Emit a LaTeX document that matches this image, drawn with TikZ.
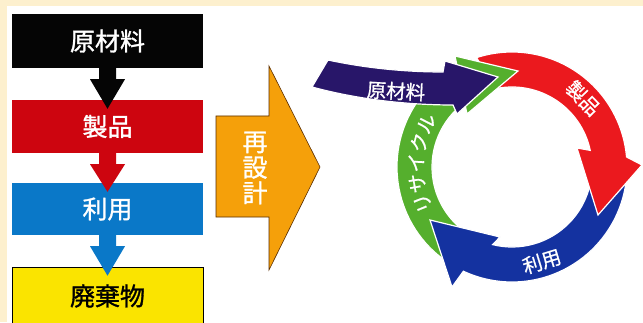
\documentclass[tikz,border=0pt]{standalone}
\usepackage{fontspec}
\newfontfamily\jp{Noto Sans CJK JP}[FakeBold=0.8]
\newfontfamily\jpb{Noto Sans CJK JP}[FakeBold=1.2]
\usetikzlibrary{calc}
\definecolor{cream}{RGB}{253,240,206}
\definecolor{boxblack}{RGB}{5,5,5}
\definecolor{boxred}{RGB}{205,5,15}
\definecolor{boxblue}{RGB}{10,120,200}
\definecolor{boxyellow}{RGB}{250,228,0}
\definecolor{orangearr}{RGB}{245,160,10}
\definecolor{orangeedge}{RGB}{90,45,0}
\definecolor{cycred}{RGB}{235,25,30}
\definecolor{cycblue}{RGB}{20,50,160}
\definecolor{cycgreen}{RGB}{85,175,45}
\definecolor{cycnavy}{RGB}{40,22,105}
\newcommand\flowarrow[3]{%
  \fill[#1] ($(#2.south)+(-8.5,0.5)$) -- ($(#2.south)+(-8.5,-11)$) -- ($(#2.south)+(-17.5,-11)$)
    -- ($(#3.north)+(0,-9)$) -- ($(#2.south)+(17.5,-11)$) -- ($(#2.south)+(8.5,-11)$)
    -- ($(#2.south)+(8.5,0.5)$) -- cycle;}
\begin{document}
\begin{tikzpicture}[x=1pt,y=1pt,
  flowbox/.style={rectangle, minimum width=191pt, inner sep=0pt,
    font=\jpb\fontsize{25}{25}\selectfont, text=white},
  cyclab/.style={font=\jp\fontsize{19.5}{19.5}\selectfont, text=white, inner sep=0pt},
  cycpart/.style={draw=white, line width=1.2pt, line join=miter}]
\clip (0,0) rectangle (643,322);
\fill[cream] (0,0) rectangle (643,322);
\fill[white] (7,-1) rectangle (644,316);

% left flow
\node[flowbox, fill=boxblack, minimum height=54pt] (raw) at (107.5,281) {原材料};
\node[flowbox, fill=boxred, minimum height=53pt] (prod) at (107.5,195.5) {製品};
\node[flowbox, fill=boxblue, minimum height=52pt] (use) at (107.5,113) {利用};
\node[flowbox, fill=boxyellow, draw=black, line width=0.6pt, minimum height=58pt, text=black] (waste) at (107.5,26) {廃棄物};
\flowarrow{boxblack}{raw}{prod}
\flowarrow{boxred}{prod}{use}
\flowarrow{boxblue}{use}{waste}

% redesign arrow
\filldraw[fill=orangearr, draw=orangeedge, line width=0.6pt]
  (216,206) -- (269,206) -- (269,256) -- (320,155) -- (269,52) -- (269,105) -- (216,105) -- cycle;
\node[font=\jpb\fontsize{25}{25.6}\selectfont, text=white, align=center, inner sep=0pt] (redesign) at (255,154) {再\\設\\計};

% cycle
\coordinate (C) at (512,155);
% green shaft
\filldraw[cycpart, fill=cycgreen] ($(C)+(236:115)$) arc[start angle=236, end angle=120, radius=115]
  -- ($(C)+(127:80)$) arc[start angle=127, end angle=236, radius=80] -- cycle;
% blue
\filldraw[cycpart, fill=cycblue] ($(C)+(-5:115)$) arc[start angle=-5, end angle=-115, radius=115]
  -- (452,35) -- (430,102) -- (500,85) -- ($(C)+(-104:80)$) arc[start angle=-104, end angle=-5, radius=80] -- cycle;
% red
\filldraw[cycpart, fill=cycred] ($(C)+(108:115)$) arc[start angle=108, end angle=5, radius=115]
  -- (642,157) -- (598,107) -- (577,174) -- ($(C)+(12:80)$) arc[start angle=12, end angle=101, radius=80] -- cycle;
% green head
\filldraw[cycpart, fill=cycgreen] (455,266) -- (518,251) -- (467,208) -- cycle;
% navy raw-material arrow
\filldraw[cycpart, fill=cycnavy] (328,262) .. controls (370,253) and (410,250) .. (443,250)
  -- (445,261) -- (498,245) -- (457,208) -- (453,217) .. controls (410,217) and (360,222) .. (312,235) -- cycle;

\node[cyclab, rotate=-3] (lraw) at (396,231) {原材料};
\node[cyclab, rotate=-46] (lprod) at ($(C)+(44:99)$) {製品};
\node[cyclab, rotate=17] (luse) at ($(C)+(287.5:99)$) {利用};
\foreach \ch/\a [count=\i] in {リ/202,サ/189.75,イ/177.5,ク/165.25,ル/153}
  \node[cyclab, rotate=\a-90] (rc\i) at ($(C)+(\a:96)$) {\ch};
\end{tikzpicture}
\end{document}
